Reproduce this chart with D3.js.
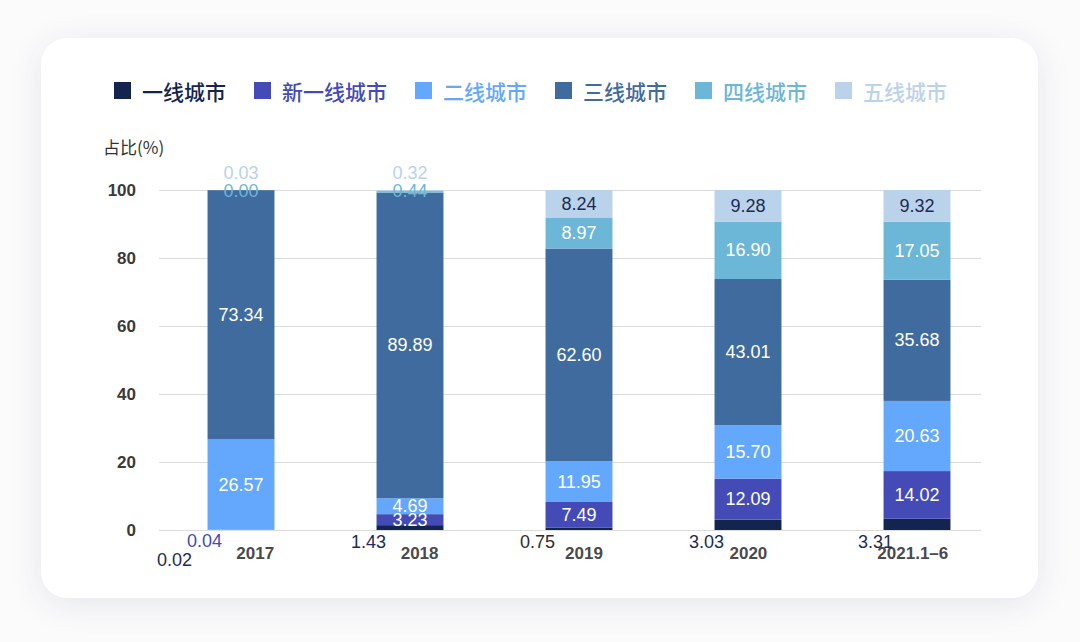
<!DOCTYPE html>
<html>
<head>
<meta charset="utf-8">
<script src="https://cdn.jsdelivr.net/npm/d3@7/dist/d3.min.js"></script>
<style>
  html, body { margin: 0; padding: 0; background: #fbfbfc; }
  body { width: 1080px; height: 642px; position: relative; overflow: hidden; }
  #card { position: absolute; left: 41px; top: 38px; width: 997px; height: 560px;
          background: #fff; border-radius: 26px;
          box-shadow: 0 6px 34px rgba(40, 50, 90, 0.10); }
  svg { position: absolute; left: 0; top: 0; }
</style>
</head>
<body>
<div id="card"></div>
<svg id="chart" width="1080" height="642"></svg>
<script>
// ---- data ----
const categories = ['2017', '2018', '2019', '2020', '2021.1–6'];
const seriesNames = ['一线城市', '新一线城市', '二线城市', '三线城市', '四线城市', '五线城市'];
const tier1    = [0.02, 1.43, 0.75, 3.03, 3.31];
const newTier1 = [0.04, 3.23, 7.49, 12.09, 14.02];
const tier2    = [26.57, 4.69, 11.95, 15.70, 20.63];
const tier3    = [73.34, 89.89, 62.60, 43.01, 35.68];
const tier4    = [0.00, 0.44, 8.97, 16.90, 17.05];
const tier5    = [0.03, 0.32, 8.24, 9.28, 9.32];
const yTicks   = [0, 20, 40, 60, 80, 100];
const yTitle = '占比(%)';

const seriesValues = [tier1, newTier1, tier2, tier3, tier4, tier5];
const colors = ['#13244f', '#444bb6', '#64a8fe', '#3f6b9e', '#6cb6d8', '#bad2ea'];
const numFont = '"Liberation Sans", Arial, "Noto Sans CJK SC", sans-serif';
const cjkFont = '"Noto Sans CJK SC", "Noto Sans", sans-serif';

const svg = d3.select('#chart');

// table for the stack
const table = categories.map((c, i) => {
  const row = { cat: c };
  seriesNames.forEach((s, k) => row[s] = seriesValues[k][i]);
  return row;
});
const stacked = d3.stack().keys(seriesNames)(table);

const y = d3.scaleLinear().domain([0, 100]).range([530, 190]);
const x = d3.scaleBand().domain(categories).range([156.5, 1001.5]).paddingInner(0.604).paddingOuter(0.302);
const xLabel = d3.scaleBand().domain(categories).range([173, 995]);
const gridX0 = 159, gridX1 = 981;

// grid
const yAxis = d3.axisLeft(y).tickValues(yTicks).tickSize(-(gridX1 - gridX0)).tickPadding(23);
const gy = svg.append('g').attr('transform', `translate(${gridX0},0)`).call(yAxis);
gy.select('.domain').remove();
gy.selectAll('.tick line').attr('stroke', '#dcdcdc').attr('stroke-width', 1.2);
gy.selectAll('.tick text').attr('fill', '#3a3a3a').attr('font-size', 17).attr('font-weight', 700)
  .attr('font-family', numFont);

// y title
svg.append('text').attr('x', 103).attr('y', 146).attr('dominant-baseline', 'central')
  .attr('font-family', cjkFont).attr('font-size', 17).attr('fill', '#333').text(yTitle);

// bars
const layers = svg.append('g').selectAll('g').data(stacked).join('g')
  .attr('fill', (d, i) => colors[i]);
layers.selectAll('rect').data(d => d).join('rect')
  .attr('x', d => x(d.data.cat))
  .attr('width', x.bandwidth())
  .attr('y', d => y(d[1]))
  .attr('height', d => Math.max(0, y(d[0]) - y(d[1])));

// x labels
svg.append('g').selectAll('text').data(categories).join('text')
  .attr('x', d => xLabel(d) + xLabel.bandwidth() / 2)
  .attr('y', 553).attr('text-anchor', 'middle').attr('dominant-baseline', 'central')
  .attr('font-family', numFont).attr('font-size', 17).attr('font-weight', 700)
  .attr('fill', '#4a4a4a').text(d => d);

// value labels
const minInside = 8;
const labels = [];
stacked.forEach((layer, k) => {
  layer.forEach((d, i) => {
    const v = seriesValues[k][i];
    const h = y(d[0]) - y(d[1]);
    const cx = x(d.data.cat) + x.bandwidth() / 2;
    const left = x(d.data.cat);
    const txt = v.toFixed(2);
    if (k === 0) {
      const nOut = (y(stacked[1][i][0]) - y(stacked[1][i][1])) < minInside;
      if (nOut) labels.push({ x: left - 33, y: 560, t: txt, c: '#1c2b55' });
      else labels.push({ x: left - 8, y: 542, t: txt, c: i === 2 ? '#2e2b30' : '#1c2b55' });
    } else if (h >= minInside) {
      labels.push({ x: cx, y: (y(d[0]) + y(d[1])) / 2, t: txt,
        c: k === 5 ? '#1c2b55' : '#ffffff' });
    } else if (k === 1) {
      labels.push({ x: left - 3, y: 541, t: txt, c: colors[1] });
    } else if (k === 4) {
      labels.push({ x: cx, y: y(100) + 0.5, t: txt, c: colors[4] });
    } else if (k === 5) {
      labels.push({ x: cx, y: y(100) - 17, t: txt, c: colors[5] });
    }
  });
});
svg.append('g').selectAll('text').data(labels).join('text')
  .attr('x', d => d.x).attr('y', d => d.y)
  .attr('text-anchor', 'middle').attr('dominant-baseline', 'central')
  .attr('font-family', numFont).attr('font-size', 18).attr('fill', d => d.c)
  .text(d => d.t);

// legend
const lg = svg.append('g');
let lx = 114;
seriesNames.forEach((s, k) => {
  lg.append('rect').attr('x', lx).attr('y', 82).attr('width', 17).attr('height', 17).attr('fill', colors[k]);
  const t = lg.append('text').attr('x', lx + 28).attr('y', 91).attr('dominant-baseline', 'central')
    .attr('font-family', cjkFont).attr('font-size', 21).attr('font-weight', 500)
    .attr('fill', colors[k]).text(s);
  const w = t.node().getComputedTextLength();
  lx += 28 + w + 28;
});
</script>
</body>
</html>
